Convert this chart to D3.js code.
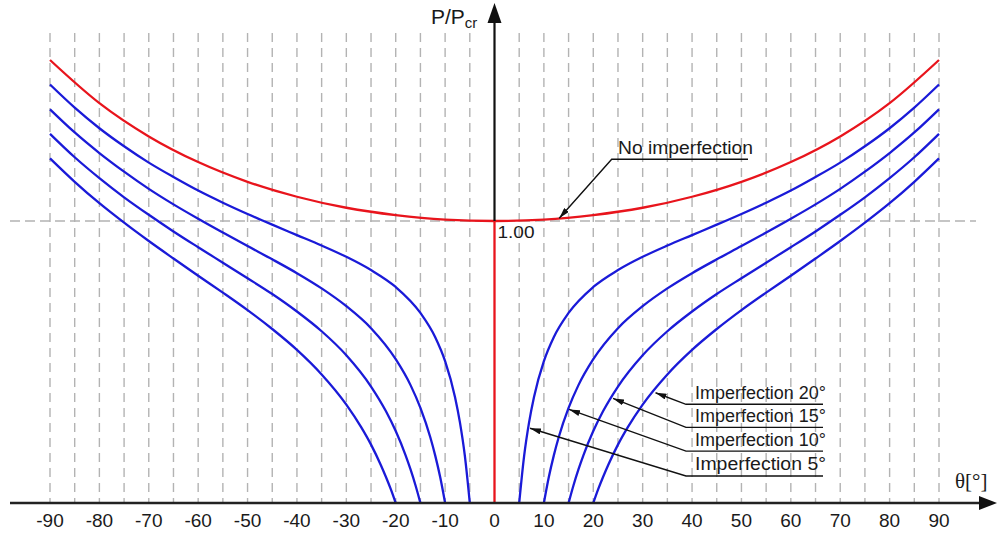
<!DOCTYPE html>
<meta charset="utf-8">
<style>
body { margin: 0; background: #fff; font-family: "Liberation Sans", Arial, sans-serif; }
.grid { stroke: #b3b3b3; stroke-width: 1.4; stroke-dasharray: 9,6; }
.lbl { fill: #1a1a1a; }
</style>
<body>
<script src="https://cdn.jsdelivr.net/npm/d3@7"></script>
<script>

// tick labels on the theta axis
var xTicks = [-90, -80, -70, -60, -50, -40, -30, -20, -10, 0, 10, 20, 30, 40, 50, 60, 70, 80, 90];
// dashed grid every 5 degrees
var gridTheta = [-90, -85, -80, -75, -70, -65, -60, -55, -50, -45, -40, -35, -30, -25, -20, -15, -10, -5,
                 5, 10, 15, 20, 25, 30, 35, 40, 45, 50, 55, 60, 65, 70, 75, 80, 85, 90];

// no imperfection (read off the right half, the picture is symmetric)
var perfTheta = [0, 10, 20, 30, 40, 50, 60, 70, 80, 90];
var perfP     = [1.000, 1.005, 1.021, 1.047, 1.086, 1.139, 1.209, 1.300, 1.418, 1.571];

// imperfect branches, right half (mirrored for the left half)
var imp5Theta  = [5, 6, 7, 8, 10, 12, 15, 20, 25, 30, 35, 40, 45, 50, 55, 60, 65, 70, 75, 80, 85, 90];
var imp5P      = [0, 0.167, 0.286, 0.376, 0.503, 0.588, 0.674, 0.766, 0.826, 0.873, 0.913, 0.950, 0.987, 1.025, 1.065, 1.108, 1.156, 1.207, 1.265, 1.329, 1.402, 1.484];
var imp10Theta = [10, 11, 12, 13, 15, 17, 20, 25, 30, 35, 40, 45, 50, 55, 60, 65, 70, 75, 80, 85, 90];
var imp10P     = [0, 0.092, 0.168, 0.233, 0.337, 0.418, 0.510, 0.620, 0.698, 0.761, 0.815, 0.864, 0.911, 0.959, 1.008, 1.059, 1.114, 1.175, 1.241, 1.314, 1.396];
var imp15Theta = [15, 16, 17, 18, 20, 22, 25, 30, 35, 40, 45, 50, 55, 60, 65, 70, 75, 80, 85, 90];
var imp15P     = [0, 0.063, 0.119, 0.169, 0.255, 0.326, 0.413, 0.524, 0.609, 0.679, 0.741, 0.797, 0.852, 0.907, 0.963, 1.022, 1.084, 1.152, 1.226, 1.309];
var imp20Theta = [20, 21, 22, 23, 25, 27, 30, 35, 40, 45, 50, 55, 60, 65, 70, 75, 80, 85, 90];
var imp20P     = [0, 0.049, 0.093, 0.134, 0.207, 0.269, 0.349, 0.456, 0.543, 0.617, 0.684, 0.746, 0.806, 0.867, 0.929, 0.994, 1.063, 1.139, 1.222];

var impNames  = ["Imperfection 5\u00b0", "Imperfection 10\u00b0", "Imperfection 15\u00b0", "Imperfection 20\u00b0"];
var impSeries = [[imp5Theta, imp5P], [imp10Theta, imp10P], [imp15Theta, imp15P], [imp20Theta, imp20P]];
// where each leader arrow touches its curve, and height of the label line
var impArrowTheta = [7.2, 15.1, 24.0, 32.6];
var impArrowP     = [0.265, 0.332, 0.371, 0.391];
var impLabelP     = [0.096, 0.184, 0.268, 0.350];

var width = 997, height = 533;
var blue = "#1a1ad8", red = "#e8141c";

var x = d3.scaleLinear().domain([-90, 90]).range([50, 939]);
var y = d3.scaleLinear().domain([0, 1]).range([503, 221]);

var svg = d3.select("body").append("svg")
    .attr("width", width)
    .attr("height", height);

// arrow heads
var defs = svg.append("defs");
defs.append("marker")
    .attr("id", "lead")
    .attr("viewBox", "0 0 11 6")
    .attr("refX", 11).attr("refY", 3)
    .attr("markerWidth", 11).attr("markerHeight", 6)
    .attr("markerUnits", "userSpaceOnUse")
    .attr("orient", "auto")
  .append("path")
    .attr("d", "M0,0 L11,3 L0,6 Z")
    .attr("fill", "#111");

// vertical dashed grid
svg.append("g").selectAll("line")
    .data(gridTheta)
  .enter().append("line")
    .attr("class", "grid")
    .attr("x1", function(d) { return x(d); })
    .attr("x2", function(d) { return x(d); })
    .attr("y1", 33)
    .attr("y2", y(0));

// horizontal dashed line at P/Pcr = 1
svg.append("line")
    .attr("class", "grid")
    .attr("x1", 10).attr("x2", 976)
    .attr("y1", y(1)).attr("y2", y(1))
    .style("stroke-dasharray", "10,5");

var line = d3.line()
    .x(function(d) { return x(d[0]); })
    .y(function(d) { return y(d[1]); })
    .curve(d3.curveMonotoneX);

function halves(th, p) {
  var right = th.map(function(t, i) { return [t, p[i]]; });
  var left = right.map(function(d) { return [-d[0], d[1]]; }).reverse();
  return [left, right];
}

// blue curves
impSeries.forEach(function(s) {
  svg.append("g").selectAll("path")
      .data(halves(s[0], s[1]))
    .enter().append("path")
      .attr("d", line)
      .attr("fill", "none")
      .attr("stroke", blue)
      .attr("stroke-width", 2.3);
});

// red curve
var perf = perfTheta.map(function(t, i) { return [t, perfP[i]]; });
var perfFull = perf.map(function(d) { return [-d[0], d[1]]; }).reverse().concat(perf.slice(1));
svg.append("path")
    .attr("d", line(perfFull))
    .attr("fill", "none")
    .attr("stroke", red)
    .attr("stroke-width", 2.3);

// y axis: black above 1.00, red trivial branch below
svg.append("line")
    .attr("x1", x(0)).attr("x2", x(0))
    .attr("y1", 20).attr("y2", y(1))
    .attr("stroke", "#111").attr("stroke-width", 2.2);
svg.append("line")
    .attr("x1", x(0)).attr("x2", x(0))
    .attr("y1", y(1)).attr("y2", y(0))
    .attr("stroke", red).attr("stroke-width", 2.3);
svg.append("path")
    .attr("d", "M" + x(0) + ",3 L" + (x(0) + 7) + ",23 L" + (x(0) - 7) + ",23 Z")
    .attr("fill", "#111");

// x axis with arrow
svg.append("line")
    .attr("x1", 10).attr("x2", 982)
    .attr("y1", y(0)).attr("y2", y(0))
    .attr("stroke", "#222").attr("stroke-width", 2.4);
svg.append("path")
    .attr("d", "M997," + y(0) + " L979," + (y(0) - 7) + " L979," + (y(0) + 7) + " Z")
    .attr("fill", "#111");

// tick labels
svg.append("g")
    .attr("font-size", 19)
    .attr("text-anchor", "middle")
  .selectAll("text")
    .data(xTicks)
  .enter().append("text")
    .attr("class", "lbl")
    .attr("x", function(d) { return x(d); })
    .attr("y", 527)
    .text(function(d) { return d; });

// axis titles
var yt = svg.append("text")
    .attr("class", "lbl")
    .attr("x", 431)
    .attr("y", 24)
    .attr("font-size", 21);
yt.append("tspan").text("P/P");
yt.append("tspan").attr("font-size", 15).attr("dy", 4).text("cr");

svg.append("text")
    .attr("class", "lbl")
    .attr("x", 955)
    .attr("y", 488)
    .attr("font-family", "'Liberation Serif', serif")
    .attr("font-size", 21)
    .text("\u03b8[\u00b0]");

svg.append("text")
    .attr("class", "lbl")
    .attr("x", x(0) + 3)
    .attr("y", 238)
    .attr("font-size", 17)
    .attr("textLength", 37)
    .attr("lengthAdjust", "spacingAndGlyphs")
    .text("1.00");

// leader for the perfect column
svg.append("polyline")
    .attr("points", [[748, 159.3], [611.7, 159.3], [x(13.1), y(1.01)]].join(" "))
    .attr("fill", "none")
    .attr("stroke", "#111")
    .attr("stroke-width", 1.4)
    .attr("marker-end", "url(#lead)");
svg.append("text")
    .attr("class", "lbl")
    .attr("x", 618)
    .attr("y", 153.5)
    .attr("font-size", 18)
    .attr("textLength", 135)
    .attr("lengthAdjust", "spacingAndGlyphs")
    .text("No imperfection");

// leaders for the imperfect columns
impNames.forEach(function(name, i) {
  var ly = y(impLabelP[i]);
  svg.append("polyline")
      .attr("points", [[823, ly], [686, ly], [x(impArrowTheta[i]), y(impArrowP[i])]].join(" "))
      .attr("fill", "none")
      .attr("stroke", "#111")
      .attr("stroke-width", 1.4)
      .attr("marker-end", "url(#lead)");
  svg.append("text")
      .attr("class", "lbl")
      .attr("x", 695)
      .attr("y", ly - 5.5)
      .attr("font-size", 18)
      .attr("textLength", name.length > 16 ? 140 : 131)
      .attr("lengthAdjust", "spacingAndGlyphs")
      .text(name);
});

</script>
</body>
